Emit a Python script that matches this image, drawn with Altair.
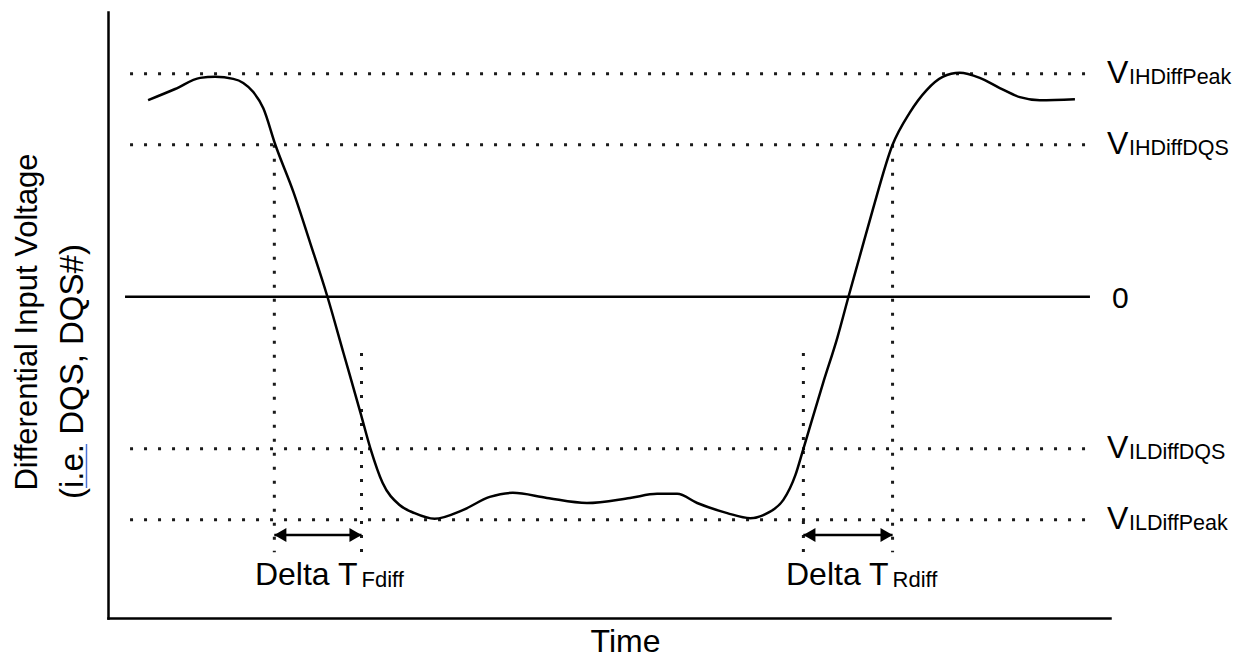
import altair as alt
import pandas as pd

FONT = "Liberation Sans"
DOT = "#1a1a1a"

# ---- data (time in ns, differential voltage in mV) ----
curve_t = [0.40, 0.67, 0.92, 1.07, 1.25, 1.35, 1.45, 1.55, 1.67, 1.85,
           2.02, 2.19, 2.35, 2.52, 2.62, 2.74, 2.91, 3.06, 3.26, 3.54,
           3.81, 4.04, 4.38, 4.78, 5.21, 5.48, 5.68, 5.88, 6.18, 6.41,
           6.58, 6.74, 6.86, 6.94, 7.14, 7.28, 7.39, 7.50, 7.63, 7.83,
           8.00, 8.17, 8.33, 8.50, 8.70, 8.90, 9.10, 9.30, 9.65]
curve_v = [388, 410, 432, 434, 430, 422, 404, 372, 300, 207,
           105, 0, -111, -229, -300, -367, -411, -427, -438, -421,
           -395, -387, -397, -407, -397, -389, -389, -407, -427, -437,
           -427, -401, -352, -300, -168, -80, 0, 78, 170, 300,
           363, 408, 434, 442, 432, 412, 394, 388, 390]

level_names = ["IHDiffPeak", "IHDiffDQS", "ILDiffDQS", "ILDiffPeak"]
level_v = [440, 300, -300, -440]
level_start = 0.22
level_end = 9.80
zero_start = 0.17

marker_t = [1.66, 2.53, 6.94, 7.83]
marker_top = [300, -111, -111, 300]
marker_bottom = -504

delta_names = ["Fdiff", "Rdiff"]
delta_start = [1.66, 6.94]
delta_end = [2.53, 7.83]
arrow_v = -470

y_line1 = "Differential Input Voltage"
y_line2 = "(i.e. DQS, DQS#)"

# ---- tables ----
curve_df = pd.DataFrame({"t": curve_t, "v": curve_v})
level_df = pd.DataFrame({"name": level_names, "v": level_v,
                         "t0": [level_start] * len(level_v),
                         "t1": [level_end] * len(level_v)})
zero_df = pd.DataFrame({"v": [0], "t0": [zero_start], "t1": [level_end], "label": ["0"]})
marker_df = pd.DataFrame({"t": marker_t, "top": marker_top,
                          "bottom": [marker_bottom] * len(marker_t)})
delta_df = pd.DataFrame({"name": delta_names, "t0": delta_start, "t1": delta_end,
                         "v": [arrow_v] * len(delta_names)})

XSCALE = alt.Scale(domain=[0, 10], nice=False, zero=False)
YSCALE = alt.Scale(domain=[-634, 562], nice=False, zero=False)


def xenc(field):
    return alt.X(field, scale=XSCALE,
                 axis=alt.Axis(title="Time", labels=False, ticks=False, grid=False,
                               domainColor="black", domainWidth=2.5, domainCap="square",
                               titleX=517, titleY=33, titleBaseline="alphabetic",
                               titleAlign="center", titleFontSize=32,
                               titleFontWeight="normal", titleFont=FONT,
                               titleColor="black"))


def yenc(field):
    return alt.Y(field, scale=YSCALE,
                 axis=alt.Axis(title=None, labels=False, ticks=False, grid=False,
                               domainColor="black", domainWidth=2.5, domainCap="square"))


levels = alt.Chart(level_df).mark_rule(
    strokeDash=[3, 11], strokeWidth=3, color=DOT
).encode(x=xenc("t0:Q"), x2="t1:Q", y=yenc("v:Q"))

zero = alt.Chart(zero_df).mark_rule(strokeWidth=2.5, color="black").encode(
    x=xenc("t0:Q"), x2="t1:Q", y=yenc("v:Q"))

markers = alt.Chart(marker_df).mark_rule(
    strokeDash=[3, 11], strokeWidth=3, color=DOT
).encode(x=xenc("t:Q"), y=yenc("top:Q"), y2="bottom:Q")

curve = alt.Chart(curve_df).mark_line(
    color="black", strokeWidth=2.5, interpolate="monotone"
).encode(x=xenc("t:Q"), y=yenc("v:Q"))

arrows = alt.Chart(delta_df).mark_rule(strokeWidth=2.5, color="black").encode(
    x=xenc("t0:Q"), x2="t1:Q", y=yenc("v:Q"))
head_l = alt.Chart(delta_df).mark_point(
    shape="triangle-left", size=196, filled=True, color="black", opacity=1, xOffset=6
).encode(x=xenc("t0:Q"), y=yenc("v:Q"))
head_r = alt.Chart(delta_df).mark_point(
    shape="triangle-right", size=196, filled=True, color="black", opacity=1, xOffset=-6
).encode(x=xenc("t1:Q"), y=yenc("v:Q"))

v_big = alt.Chart(level_df).mark_text(
    text="V", align="left", baseline="alphabetic", dx=17, dy=9,
    fontSize=32, font=FONT, color="black"
).encode(x=xenc("t1:Q"), y=yenc("v:Q"))
v_sub = alt.Chart(level_df).mark_text(
    align="left", baseline="alphabetic", dx=39, dy=10,
    fontSize=21.5, font=FONT, color="black"
).encode(x=xenc("t1:Q"), y=yenc("v:Q"), text="name:N")

zero_lbl = alt.Chart(zero_df).mark_text(
    align="left", baseline="alphabetic", dx=22, dy=11,
    fontSize=30, font=FONT, color="black"
).encode(x=xenc("t1:Q"), y=yenc("v:Q"), text="label:N")

delta_main = alt.Chart(delta_df).mark_text(
    text="Delta T", align="right", baseline="alphabetic", dx=-4, dy=50,
    fontSize=32, font=FONT, color="black"
).encode(x=xenc("t1:Q"), y=yenc("v:Q"))
delta_sub = alt.Chart(delta_df).mark_text(
    align="left", baseline="alphabetic", dx=0, dy=52,
    fontSize=22, font=FONT, color="black"
).encode(x=xenc("t1:Q"), y=yenc("v:Q"), text="name:N")

ytitle1 = alt.Chart(pd.DataFrame({"label": [y_line1]})).mark_text(
    angle=270, align="center", baseline="alphabetic", fontSize=31, font=FONT, color="black"
).encode(x=alt.value(-71), y=alt.value(310), text="label:N")
ytitle2 = alt.Chart(pd.DataFrame({"label": [y_line2]})).mark_text(
    angle=270, align="left", baseline="alphabetic", fontSize=33, font=FONT, color="black"
).encode(x=alt.value(-25), y=alt.value(487), text="label:N")
underline = alt.Chart(pd.DataFrame({"label": [y_line2]})).mark_rule(
    color="#4a72d8", strokeWidth=1.5
).encode(x=alt.value(-21.5), y=alt.value(432), y2=alt.value(476))

chart = alt.layer(
    levels, zero, markers, curve, arrows, head_l, head_r,
    v_big, v_sub, zero_lbl, delta_main, delta_sub,
    ytitle1, ytitle2, underline
).properties(
    width=1002, height=606,
    autosize=alt.AutoSizeParams(type="none"),
    padding={"left": 100, "top": 4, "right": 125, "bottom": 40},
    background="white",
).configure_view(stroke=None)

chart.save("out.html", embed_options={"renderer": "svg", "actions": False})
